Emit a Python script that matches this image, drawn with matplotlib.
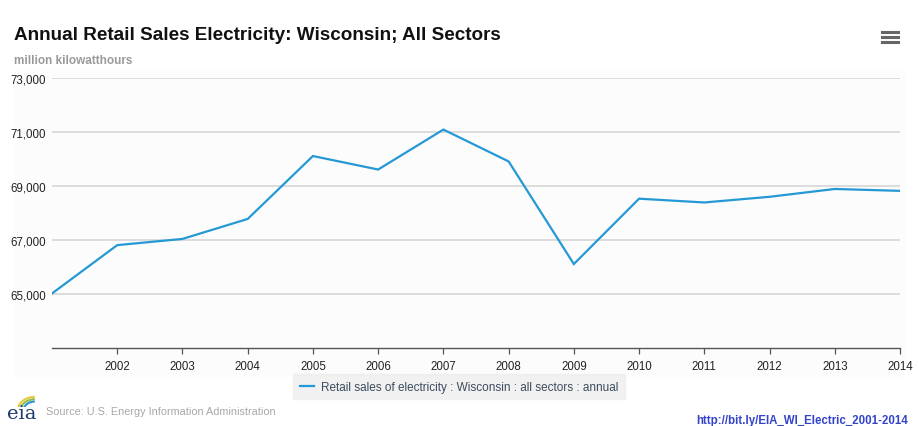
import matplotlib
matplotlib.use("Agg")
import matplotlib.pyplot as plt
import numpy as np
from matplotlib.patches import Rectangle, Arc

plt.rcParams['font.family'] = ['Liberation Sans', 'DejaVu Sans']

years = [2001, 2002, 2003, 2004, 2005, 2006, 2007, 2008, 2009, 2010, 2011, 2012, 2013, 2014]
sales = [65020, 66810, 67040, 67780, 70110, 69610, 71090, 69910, 66110, 68530, 68390, 68600, 68890, 68820]
y_ticks = [65000, 67000, 69000, 71000, 73000]
x_ticks = list(range(2002, 2015))

title = 'Annual Retail Sales Electricity: Wisconsin; All Sectors'
units = 'million kilowatthours'
series_name = 'Retail sales of electricity : Wisconsin : all sectors : annual'
source = 'Source: U.S. Energy Information Administration'
link = 'http://bit.ly/EIA_WI_Electric_2001-2014'

fig = plt.figure(figsize=(9.2, 4.27), dpi=100)
fig.patch.set_facecolor('white')

# light plot-area background (own axes, drawn below the chart)
bg = fig.add_axes([15/920, 1 - 378/427, 890/920, 308/427], zorder=-5)
bg.axis('off')
bg.add_patch(Rectangle((0, 0), 1, 1, transform=bg.transAxes, facecolor='#fcfcfc',
                       edgecolor='none'))

ax = fig.add_axes([52/920, 1 - 349/427, 848/920, 270/427], zorder=1)
ax.set_facecolor('none')
ax.plot(years, sales, color='#2499d5', lw=1.6, solid_joinstyle='miter', zorder=3)

ax.set_xlim(2001, 2014)
ax.set_ylim(63000, 73000)
ax.set_yticks(y_ticks)
ax.set_yticklabels([f'{v:,}' for v in y_ticks])
ax.set_xticks(x_ticks)
ax.set_xticklabels([str(v) for v in x_ticks])
ax.grid(axis='y', color='#d6d6d6', lw=1.2)
ax.set_axisbelow(True)

for s in ['top', 'right', 'left']:
    ax.spines[s].set_visible(False)
ax.spines['bottom'].set_color('#555555')
ax.spines['bottom'].set_linewidth(1.0)
ax.tick_params(axis='y', length=0, pad=4, labelsize=8.3, labelcolor='#222222')
ax.tick_params(axis='x', length=4, direction='out', color='#555555', width=0.9,
               pad=5, labelsize=8.3, labelcolor='#222222')

fig.text(14/920, 1 - 35/427, title, fontsize=13.6, fontweight='bold',
         color='#111111', va='center', ha='left')
fig.text(14/920, 1 - 61/427, units, fontsize=8.5, fontweight='bold',
         color='#9a9a9a', va='center', ha='left')

# hamburger menu icon
for yy in [33, 38, 43]:
    fig.lines.append(plt.Line2D([882/920, 898/920], [1 - yy/427, 1 - yy/427],
                                transform=fig.transFigure, color='#666666', lw=2.2))

leg = ax.legend([series_name], loc='upper center', bbox_to_anchor=(0.48, -0.075),
                frameon=True, fontsize=8.5, handlelength=1.2, borderpad=0.55,
                handletextpad=0.6)
leg.get_frame().set_facecolor('#eeeeee')
leg.get_frame().set_edgecolor('#eeeeee')
leg.get_frame().set_boxstyle('square', pad=0)
for t in leg.get_texts():
    t.set_color('#3c4c5c')

# eia logo
fig.text(7/920, 1 - 414/427, 'eia', fontsize=14, family='DejaVu Serif',
         color='#1d3b6e', va='center', ha='left')
logo_ax = fig.add_axes([12/920, 1 - 408/427, 24/920, 13/427])
logo_ax.axis('off')
logo_ax.set_xlim(0, 1)
logo_ax.set_ylim(0, 1)
for r, c in [(0.9, '#e8c93a'), (0.75, '#8cc04a'), (0.6, '#2c8fd0')]:
    logo_ax.add_patch(Arc((0.95, -0.3), r * 1.6, r * 2.4, theta1=90, theta2=165, color=c, lw=1.5))

fig.text(46/920, 1 - 412/427, source, fontsize=7.8, color='#a8a8a8',
         va='center', ha='left')
fig.text(908/920, 1 - 421/427, link, fontsize=8.3, fontweight='bold',
         color='#3344cc', va='center', ha='right')

fig.savefig('out.png', dpi=100, facecolor='white')
